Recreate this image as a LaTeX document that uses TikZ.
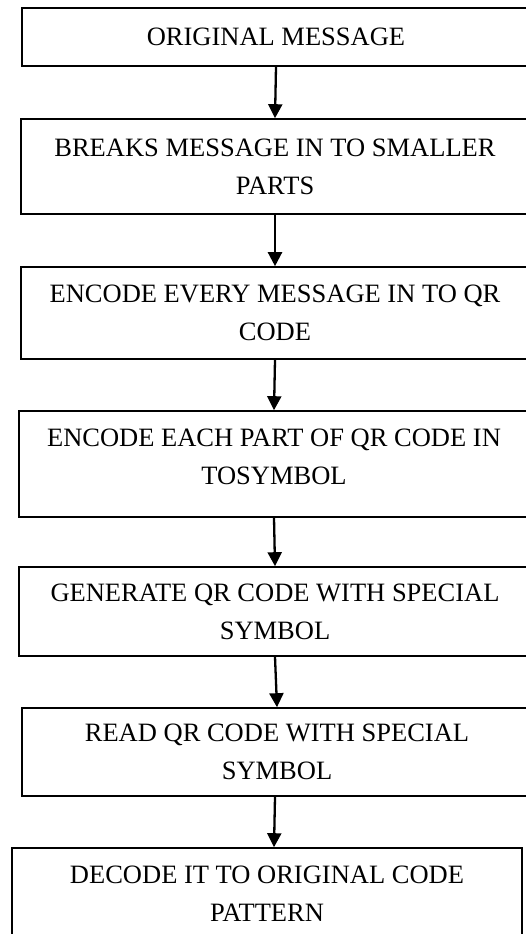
\documentclass[tikz,border=0pt]{standalone}
\usepackage{fontspec}
\setmainfont{Liberation Serif}
\usetikzlibrary{arrows.meta,calc}
\begin{document}
\begin{tikzpicture}[x=1pt,y=-1pt,
  box/.style={draw=black, line width=1.6pt, rectangle, align=center, inner sep=0pt,
    font=\fontsize{26.5}{38}\selectfont},
  flow/.style={draw=black, line width=2.3pt, -{Triangle[width=14pt,length=14pt]}}]
\useasboundingbox (0,0) rectangle (526,934);
\clip (0,0) rectangle (526,934);
\fill[white] (0,0) rectangle (526,934);
\node[box, minimum width=508, minimum height=58] (b1) at (276,37) {ORIGINAL MESSAGE};
\node[box, minimum width=508, minimum height=95] (b2) at (275,166.5) {BREAKS MESSAGE IN TO SMALLER\\PARTS};
\node[box, minimum width=508, minimum height=92] (b3) at (275,313) {ENCODE EVERY MESSAGE IN TO QR\\CODE};
\node[box, minimum width=510, minimum height=106, text depth=14pt] (b4) at (274,464) {ENCODE EACH PART OF QR CODE IN\\TOSYMBOL};
\node[box, minimum width=512, minimum height=89] (b5) at (275,611.5) {GENERATE QR CODE WITH SPECIAL\\SYMBOL};
\node[box, minimum width=510, minimum height=88] (b6) at (277,752) {READ QR CODE WITH SPECIAL\\SYMBOL};
\node[box, minimum width=510, minimum height=92] (b7) at (267,894) {DECODE IT TO ORIGINAL CODE\\PATTERN};
\draw[flow] (b1.south) -- (b2.north);
\draw[flow] (b2.south) -- (b3.north);
\draw[flow] (b3.south) -- (b4.north);
\draw[flow] (b4.south) -- (b5.north);
\draw[flow] (b5.south) -- (b6.north);
\draw[flow] ($(b6.south)+(-2,0)$) -- ($(b6.south |- b7.north)+(-3,0)$);
\end{tikzpicture}
\end{document}
